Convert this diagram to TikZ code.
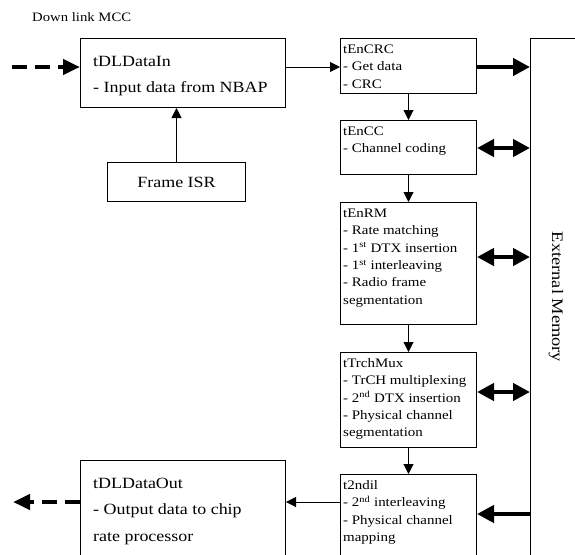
\documentclass[tikz,border=0pt]{standalone}
\usepackage{fontspec}
\setmainfont{Liberation Serif}[FakeStretch=1.15]
\usetikzlibrary{arrows.meta,calc}
\tikzset{
  box/.style={draw, line width=1pt, inner sep=0pt, anchor=north west},
  smalltxt/.style={anchor=north west, inner sep=0pt, align=left, font=\fontsize{13}{17.4}\selectfont},
  bigtxt/.style={anchor=north west, inner sep=0pt, align=left, font=\fontsize{15.6}{26.5}\selectfont},
  thinarrow/.style={line width=1pt, -{Triangle[length=10pt,width=10pt]}},
  thickarrow/.style={line width=4.5pt, -{Triangle[length=17pt,width=17pt]}},
  dblarrow/.style={line width=4.5pt, {Triangle[length=17pt,width=17pt]}-{Triangle[length=17pt,width=17pt]}},
  dasharrow/.style={line width=4.5pt, dash pattern=on 15pt off 8pt, -{Triangle[length=17pt,width=15pt]}}
}
\begin{document}
\begin{tikzpicture}[x=1pt,y=-1pt]
\clip (0,0) rectangle (575,554);
\fill[white] (0,0) rectangle (575,554);
% title
\node[anchor=base west, inner sep=0pt, font=\fontsize{12.8}{15}\selectfont] (title) at (32,21) {Down link MCC};
% big boxes
\node[box, minimum width=205pt, minimum height=69pt] (in) at (80,38) {};
\node[bigtxt] (intxt) at ($(in.north west)+(13,0)$) {\rule{0pt}{28pt}tDLDataIn\\- Input data from NBAP};
\node[box, minimum width=138pt, minimum height=39pt, font=\fontsize{15.6}{18}\selectfont] (isr) at (107,162) {Frame ISR};
\node[box, minimum width=205pt, minimum height=110pt] (out) at (80,460) {};
\node[bigtxt] (outtxt) at ($(out.north west)+(13,0)$) {\rule{0pt}{28pt}tDLDataOut\\- Output data to chip\\rate processor};
% task boxes
\node[box, minimum width=136pt, minimum height=55pt] (crc) at (340,38) {};
\node[smalltxt] (crctxt) at ($(crc.north west)+(3,0)$) {\rule{0pt}{15pt}tEnCRC\\- Get data\\- CRC};
\node[box, minimum width=136pt, minimum height=54pt] (cc) at (340,120) {};
\node[smalltxt] (cctxt) at ($(cc.north west)+(3,0)$) {\rule{0pt}{15pt}tEnCC\\- Channel coding};
\node[box, minimum width=136pt, minimum height=122pt] (rm) at (340,202) {};
\node[smalltxt] (rmtxt) at ($(rm.north west)+(3,0)$) {\rule{0pt}{15pt}tEnRM\\- Rate matching\\- 1\textsuperscript{st} DTX insertion\\- 1\textsuperscript{st} interleaving\\- Radio frame\\segmentation};
\node[box, minimum width=136pt, minimum height=95pt] (mux) at (340,352) {};
\node[smalltxt] (muxtxt) at ($(mux.north west)+(3,0)$) {\rule{0pt}{15pt}tTrchMux\\- TrCH multiplexing\\- 2\textsuperscript{nd} DTX insertion\\- Physical channel\\segmentation};
\node[box, minimum width=136pt, minimum height=110pt] (il) at (340,474) {};
\node[smalltxt] (iltxt) at ($(il.north west)+(3,0)$) {\rule{0pt}{15pt}t2ndil\\- 2\textsuperscript{nd} interleaving\\- Physical channel\\mapping};
% external memory
\node[box, minimum width=90pt, minimum height=560pt] (mem) at (530,38) {};
\node[rotate=-90, inner sep=0pt, font=\fontsize{16}{18}\selectfont] (memtxt) at (556,297) {External Memory};
% coordinates for free ends
\coordinate (inL) at (12,67);
\coordinate (outL) at (13,502);
% connectors
\draw[dasharrow] (inL) -- (inL -| in.west);
\draw[thinarrow] (isr.north) -- (isr.north |- in.south);
\draw[thinarrow] (in.east |- 0,67) -- (crc.west |- 0,67);
\draw[thickarrow] (crc.east |- 0,67) -- (mem.west |- 0,67);
\draw[thinarrow] (crc.south) -- (cc.north);
\draw[thinarrow] (cc.south) -- (rm.north);
\draw[thinarrow] (rm.south) -- (mux.north);
\draw[thinarrow] (mux.south) -- (il.north);
\draw[dblarrow] (cc.east |- 0,148) -- (mem.west |- 0,148);
\draw[dblarrow] (rm.east |- 0,257) -- (mem.west |- 0,257);
\draw[dblarrow] (mux.east |- 0,392) -- (mem.west |- 0,392);
\draw[thickarrow] (mem.west |- 0,514) -- (il.east |- 0,514);
\draw[thinarrow] (il.west |- 0,502) -- (out.east |- 0,502);
\draw[dasharrow] (out.west |- outL) -- (outL);
\end{tikzpicture}
\end{document}
